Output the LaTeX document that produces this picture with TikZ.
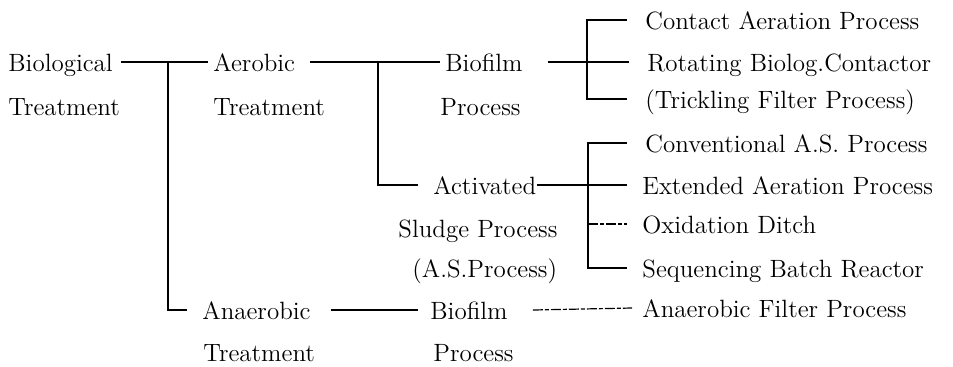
\documentclass[tikz,border=0pt]{standalone}
\colorlet{line ink}{black!100}
\colorlet{text ink}{black!100}
\tikzset{
  item/.style={anchor=west, inner sep=0pt, text height=11pt, text depth=2pt,
    text=text ink, font=\fontsize{12.5}{14}\selectfont},
  link/.style={draw=line ink, line width=1.1pt},
  faint/.style={draw=line ink, line width=0.6pt, dash pattern=on 5pt off 1pt on 2pt off 1pt}
}

\begin{document}
\begin{tikzpicture}[x=0.5pt, y=-0.5pt]
  \useasboundingbox (0,0) rectangle (953,366);

  \node[item] (bio)  at (8,62)   {Biological};
  \node[item] (biot) at (8,106)  {Treatment};
  \node[item] (aer)  at (213,62) {Aerobic};
  \node[item] (aert) at (213,106) {Treatment};
  \node[item] (an)   at (202,310) {Anaerobic};
  \node[item] (ant)  at (203,352) {Treatment};

  \node[item] (bf)  at (445,62)  {Biofilm};
  \node[item] (bfp) at (440,106) {Process};
  \node[item] (as)  at (433,185) {Activated};
  \node[item] (asp) at (398,228) {Sludge Process};
  \node[item] (asa) at (412,268) {(A.S.Process)};
  \node[item] (abf) at (430,310) {Biofilm};
  \node[item] (abp) at (433,352) {Process};

  \node[item] (c1) at (645,20)  {Contact Aeration Process};
  \node[item] (c2) at (647,62)  {Rotating Biolog.Contactor};
  \node[item] (c3) at (645,99)  {(Trickling Filter Process)};
  \node[item] (c4) at (645,143) {Conventional A.S. Process};
  \node[item] (c5) at (642,185) {Extended Aeration Process};
  \node[item] (c6) at (642,224) {Oxidation Ditch};
  \node[item] (c7) at (642,268) {Sequencing Batch Reactor};
  \node[item] (c8) at (642,308) {Anaerobic Filter Process};

  \coordinate (j1) at (168,62);
  \coordinate (j2) at (378,62);
  \coordinate (j3) at (587,62);
  \coordinate (j4) at (588,185);

  \draw[link] ([xshift=4pt]bio.east) -- ([xshift=-2.5pt]aer.west);
  \draw[link] (j1) |- ([xshift=-7.5pt]an.west);
  \draw[link] ([xshift=7.5pt]aer.east) -- ([xshift=-2.5pt]bf.west);
  \draw[link] (j2) |- ([xshift=-7.5pt]as.west);
  \draw[link] ([xshift=10pt]an.east) -- ([xshift=-6pt]abf.west);

  \draw[link] ([xshift=12.5pt]bf.east) -- ([xshift=-9pt]c2.west);
  \draw[link] ([xshift=-9pt]c1.west) -| (j3) |- ([xshift=-9pt]c3.west);

  \draw[link] (as.east) -- ([xshift=-7.5pt]c5.west);
  \draw[link] ([xshift=-9pt]c4.west) -| (j4) |- ([xshift=-7.5pt]c7.west);
  \draw[faint] (j4 |- c6.west) -- ([xshift=-7.5pt]c6.west);
  \draw[faint] ([xshift=12.5pt]abf.east) -- ([xshift=-5pt]c8.west);
\end{tikzpicture}
\end{document}
